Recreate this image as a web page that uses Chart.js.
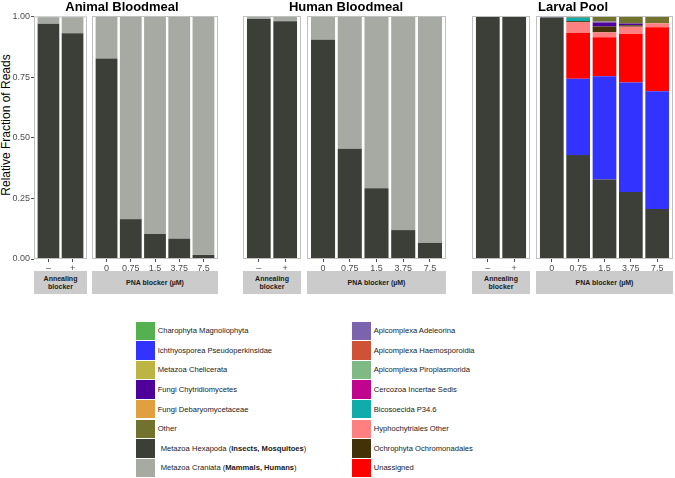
<!DOCTYPE html>
<html lang="en">
<head>
<meta charset="UTF-8">
<title>Relative Fraction of Reads</title>
<script src="https://cdn.jsdelivr.net/npm/chart.js"></script>
<style>
    body { margin: 0; background: #fff; font-family: "Liberation Sans", Arial, sans-serif; }
    #wrap { position: relative; width: 675px; height: 478px; overflow: hidden; }
    canvas { position: absolute; top: 10px; }
    .title { position: absolute; top: -1px; line-height: 15px; font-size: 13px; font-weight: bold; color: #000; transform: translateX(-50%); white-space: nowrap; }
    .strip { position: absolute; top: 271px; height: 23px; background: #cbcbcb; display: flex; align-items: center; justify-content: center; text-align: center; font-size: 7px; line-height: 8px; font-weight: bold; color: #1a1a1a; }
    #ytitle { position: absolute; left: 6px; top: 125px; font-size: 12px; color: #000; white-space: nowrap; transform: translate(-50%, -50%) rotate(-90deg); }
    .key { position: absolute; height: 19.6px; display: flex; align-items: center; font-size: 7.6px; color: #1a1a1a; white-space: nowrap; }
    .key span.sw { display: inline-block; width: 18.5px; height: 18.6px; margin-right: 3.2px; }
</style>
</head>
<body>
<div id="wrap">
    <div id="ytitle">Relative Fraction of Reads</div>
</div>

<script>
    // x labels of the two sub-panels
    const annealLabels = ['–', '+'];
    const pnaLabels = ['0', '0.75', '1.5', '3.75', '7.5'];
    const yTicks = [0, 0.25, 0.5, 0.75, 1];

    const groups = ['Animal Bloodmeal', 'Human Bloodmeal', 'Larval Pool'];

    const taxa = [
        'Charophyta Magnoliophyta', 'Ichthyosporea Pseudoperkinsidae', 'Metazoa Chelicerata',
        'Fungi Chytridiomycetes', 'Fungi Debaryomycetaceae', 'Other',
        'Metazoa Hexapoda', 'Metazoa Craniata',
        'Apicomplexa Adeleorina', 'Apicomplexa Haemosporoidia', 'Apicomplexa Piroplasmorida',
        'Cercozoa Incertae Sedis', 'Bicosoecida P34.6', 'Hyphochytriales Other',
        'Ochrophyta Ochromonadales', 'Unassigned'
    ];
    const taxaColors = [
        '#55b04f', '#3333ff', '#bcb443', '#50009a', '#e0a040', '#72722f', '#3c3f38', '#a7aaa2',
        '#7b63ad', '#cf5236', '#7fba86', '#c0048e', '#10abab', '#ff8080', '#433208', '#ff0000'
    ];

    // values: annealing -, +, then PNA 0, 0.75, 1.5, 3.75, 7.5
    const animalHexapoda = [0.970, 0.931, 0.825, 0.164, 0.103, 0.084, 0.017];
    const animalCraniata = [0.030, 0.069, 0.175, 0.836, 0.897, 0.916, 0.983];

    const humanHexapoda = [0.989, 0.978, 0.902, 0.454, 0.291, 0.119, 0.066];
    const humanCraniata = [0.011, 0.022, 0.098, 0.546, 0.709, 0.881, 0.934];

    const larvalHexapoda = [1, 1, 0.994, 0.428, 0.327, 0.276, 0.206];
    const larvalIchthyo = [0, 0, 0, 0.314, 0.425, 0.450, 0.484];
    const larvalUnassigned = [0, 0, 0, 0.188, 0.161, 0.200, 0.264];
    const larvalHypho = [0, 0, 0, 0.045, 0.020, 0.030, 0.016];
    const larvalOchro = [0, 0, 0, 0.004, 0.024, 0.006, 0];
    const larvalBicoso = [0, 0, 0, 0.014, 0, 0, 0];
    const larvalChytrid = [0, 0, 0, 0, 0.016, 0.007, 0];
    const larvalAdeleorina = [0, 0, 0.006, 0, 0.004, 0, 0];
    const larvalOther = [0, 0, 0, 0.007, 0.023, 0.031, 0.030];

    const animalSeries = [['Metazoa Hexapoda', animalHexapoda], ['Metazoa Craniata', animalCraniata]];
    const humanSeries = [['Metazoa Hexapoda', humanHexapoda], ['Metazoa Craniata', humanCraniata]];
    const larvalSeries = [
        ['Metazoa Hexapoda', larvalHexapoda], ['Ichthyosporea Pseudoperkinsidae', larvalIchthyo],
        ['Unassigned', larvalUnassigned], ['Hyphochytriales Other', larvalHypho],
        ['Ochrophyta Ochromonadales', larvalOchro], ['Bicosoecida P34.6', larvalBicoso],
        ['Fungi Chytridiomycetes', larvalChytrid], ['Apicomplexa Adeleorina', larvalAdeleorina],
        ['Other', larvalOther]
    ];

    const wrap = document.getElementById('wrap');
    const fontFam = '"Liberation Sans", Arial, sans-serif';

    const panelBorder = {
        id: 'panelBorder',
        afterDatasetsDraw(chart) {
            const a = chart.chartArea;
            const ctx = chart.ctx;
            ctx.save();
            ctx.strokeStyle = '#c0c0c0';
            ctx.lineWidth = 1;
            ctx.strokeRect(a.left + 0.5, a.top + 0.5, a.right - a.left - 1, a.bottom - a.top - 1);
            ctx.restore();
        }
    };

    function addPanel(left, width, labels, series, from, showY) {
        const cv = document.createElement('canvas');
        cv.width = width;
        cv.height = 262;
        cv.style.left = left + 'px';
        wrap.appendChild(cv);

        const datasets = series.map(([name, values]) => ({
            label: name,
            data: values.slice(from, from + labels.length).map((v, i) => ({ x: i + 1, y: v })),
            backgroundColor: taxaColors[taxa.indexOf(name)],
            borderWidth: 0,
            barPercentage: 0.9,
            categoryPercentage: 1
        }));

        new Chart(cv, {
            type: 'bar',
            data: { datasets: datasets },
            options: {
                responsive: false,
                animation: false,
                events: [],
                layout: { padding: { top: 6, left: 0, right: 0, bottom: 0 }, autoPadding: false },
                plugins: { legend: { display: false }, tooltip: { enabled: false } },
                scales: {
                    x: {
                        type: 'linear', stacked: true, min: 0.4, max: labels.length + 0.6, offset: false,
                        afterBuildTicks: s => { s.ticks = labels.map((l, i) => ({ value: i + 1 })); },
                        afterFit: s => { s.height = 13; },
                        grid: { display: true, offset: false, drawOnChartArea: false, tickLength: 3, color: '#4d4d4d' },
                        border: { display: false },
                        ticks: { callback: v => labels[v - 1], color: '#4d4d4d', padding: 1, maxRotation: 0, autoSkip: false, font: { size: 9, family: fontFam } }
                    },
                    y: {
                        display: showY, stacked: true, min: 0, max: 1,
                        afterBuildTicks: s => { s.ticks = yTicks.map(v => ({ value: v })); },
                        afterFit: s => { s.width = showY ? 34 : 0; },
                        grid: { display: true, drawOnChartArea: false, tickLength: 3, color: '#4d4d4d' },
                        border: { display: false },
                        ticks: { callback: v => v.toFixed(2), color: '#4d4d4d', padding: 1, font: { size: 9, family: fontFam } }
                    }
                }
            },
            plugins: [panelBorder]
        });
    }

    function addStrip(left, width, html) {
        const d = document.createElement('div');
        d.className = 'strip';
        d.style.left = left + 'px';
        d.style.width = width + 'px';
        d.innerHTML = html;
        wrap.appendChild(d);
    }

    function addTitle(x, text) {
        const d = document.createElement('div');
        d.className = 'title';
        d.style.left = x + 'px';
        d.textContent = text;
        wrap.appendChild(d);
    }

    // Animal Bloodmeal
    addPanel(0, 87, annealLabels, animalSeries, 0, true);
    addPanel(92, 126, pnaLabels, animalSeries, 2, false);
    addStrip(34, 53, 'Annealing<br>blocker');
    addStrip(92, 126, 'PNA blocker (µM)');
    addTitle(122, groups[0]);

    // Human Bloodmeal
    addPanel(243, 58, annealLabels, humanSeries, 0, false);
    addPanel(307, 139, pnaLabels, humanSeries, 2, false);
    addStrip(243, 58, 'Annealing<br>blocker');
    addStrip(307, 139, 'PNA blocker (µM)');
    addTitle(346, groups[1]);

    // Larval Pool
    addPanel(472, 58, annealLabels, larvalSeries, 0, false);
    addPanel(536, 137, pnaLabels, larvalSeries, 2, false);
    addStrip(472, 58, 'Annealing<br>blocker');
    addStrip(536, 137, 'PNA blocker (µM)');
    addTitle(573, groups[2]);

    // legend, two columns of eight
    const boldParts = { 'Metazoa Hexapoda': 'Insects, Mosquitoes', 'Metazoa Craniata': 'Mammals, Humans' };
    taxa.forEach((name, i) => {
        const col = Math.floor(i / 8);
        const row = i % 8;
        const d = document.createElement('div');
        d.className = 'key';
        d.style.left = (col === 0 ? 136 : 352) + 'px';
        d.style.top = (321 + row * 19.6) + 'px';
        let label = name;
        if (boldParts[name]) {
            label = '<span style="margin-left:3px">' + name + ' (<b>' + boldParts[name] + '</b>)</span>';
        }
        d.innerHTML = '<span class="sw" style="background:' + taxaColors[i] + '"></span>' + label;
        wrap.appendChild(d);
    });
</script>
</body>
</html>
